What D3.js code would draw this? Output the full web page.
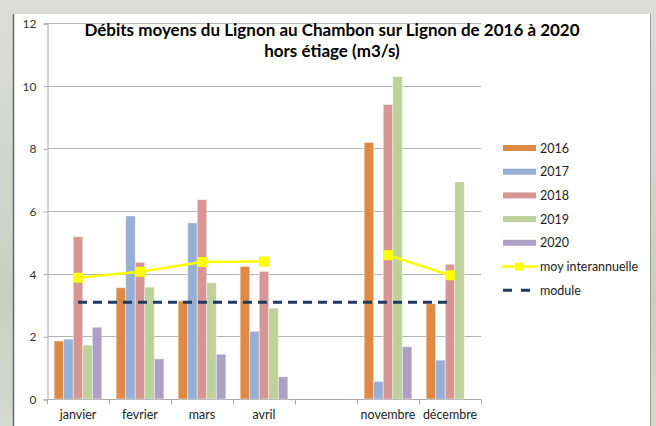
<!DOCTYPE html>
<html>
<head>
<meta charset="utf-8">
<script src="https://cdn.jsdelivr.net/npm/d3@7"></script>
<style>
  body { margin: 0; padding: 0; overflow: hidden; }
  svg { display: block; font-family: Lato, "Liberation Sans", sans-serif; }
</style>
</head>
<body>
<div id="chart"></div>
<script>
const categories = ["janvier", "fevrier", "mars", "avril", " ", "novembre", "décembre"];
const years = ["2016", "2017", "2018", "2019", "2020"];
const s2016 = [1.85, 3.55, 3.13, 4.23, null, 8.19, 3.04];
const s2017 = [1.91, 5.84, 5.62, 2.16, null, 0.56, 1.24];
const s2018 = [5.18, 4.36, 6.36, 4.07, null, 9.40, 4.30];
const s2019 = [1.72, 3.57, 3.71, 2.90, null, 10.29, 6.93];
const s2020 = [2.29, 1.28, 1.43, 0.71, null, 1.67, null];
const moyInter = [3.87, 4.06, 4.37, 4.39, null, 4.59, 3.95];
const moduleVal = 3.09;
const yTicks = [0, 2, 4, 6, 8, 10, 12];

const series = [s2016, s2017, s2018, s2019, s2020];
const colors = ["#de8a45", "#97aed5", "#d69694", "#bed19c", "#ada0c5"];

const width = 656, height = 426;
const svg = d3.select("#chart").append("svg")
  .attr("width", width)
  .attr("height", height);

// fond photo flou
const defs = svg.append("defs");
const bg = defs.append("linearGradient").attr("id", "bg")
  .attr("x1", 0).attr("y1", 0).attr("x2", 0).attr("y2", 1);
bg.append("stop").attr("offset", "0%").attr("stop-color", "#dcdcd8");
bg.append("stop").attr("offset", "40%").attr("stop-color", "#d2d5cf");
bg.append("stop").attr("offset", "70%").attr("stop-color", "#c9cfc0");
bg.append("stop").attr("offset", "100%").attr("stop-color", "#d6d8d2");
svg.append("rect").attr("width", width).attr("height", height).attr("fill", "url(#bg)");

// panneau blanc
svg.append("rect")
  .attr("x", 13).attr("y", 14)
  .attr("width", 637).attr("height", 420)
  .attr("fill", "#ffffff");
svg.append("line").attr("x1", 13.5).attr("x2", 13.5).attr("y1", 14).attr("y2", height)
  .attr("stroke", "#666").attr("stroke-width", 1.5);
svg.append("line").attr("x1", 650.5).attr("x2", 650.5).attr("y1", 14).attr("y2", height)
  .attr("stroke", "#999").attr("stroke-width", 1);

const x0 = d3.scaleBand().domain(categories).range([47, 481]).padding(0);
const x1 = d3.scaleBand().domain(years).range([0, x0.bandwidth()])
  .paddingInner(0).paddingOuter(0.75);
const y = d3.scaleLinear().domain([0, 12]).range([399, 23]);

// grille
svg.append("g").selectAll("line")
  .data(yTicks.filter(d => d > 0))
  .enter().append("line")
  .attr("x1", 47).attr("x2", 481)
  .attr("y1", d => Math.round(y(d)) + 0.5)
  .attr("y2", d => Math.round(y(d)) + 0.5)
  .attr("stroke", "#b4b4b4").attr("stroke-width", 1);

// axe y
const yAxis = svg.append("g")
  .attr("transform", "translate(47.5,0.5)")
  .call(d3.axisLeft(y).tickValues(yTicks).tickSize(4).tickPadding(7).tickFormat(d3.format("d")));
yAxis.select(".domain").attr("stroke", "#a8a8a8");
yAxis.selectAll(".tick line").attr("stroke", "#a8a8a8");
yAxis.selectAll("text").attr("font-size", 12).attr("fill", "#333")
  .attr("font-family", "Lato, sans-serif");

// axe x
const xAxis = svg.append("g")
  .attr("transform", "translate(0.5,399.5)");
xAxis.append("line").attr("x1", 47).attr("x2", 481)
  .attr("stroke", "#a8a8a8");
xAxis.selectAll(".tk")
  .data(categories.concat(["_end"]))
  .enter().append("line")
  .attr("x1", (d, i) => 47 + i * x0.bandwidth())
  .attr("x2", (d, i) => 47 + i * x0.bandwidth())
  .attr("y1", 0).attr("y2", 5)
  .attr("stroke", "#a8a8a8");
svg.append("g").selectAll("text")
  .data(categories)
  .enter().append("text")
  .attr("x", d => x0(d) + x0.bandwidth() / 2)
  .attr("y", 419)
  .attr("text-anchor", "middle")
  .attr("font-size", 12.5)
  .attr("fill", "#222")
  .text(d => d.trim());

// barres
series.forEach(function(vals, si) {
  svg.append("g").selectAll("rect")
    .data(vals.map((v, i) => ({ cat: categories[i], v: v })).filter(d => d.v != null))
    .enter().append("rect")
    .attr("x", d => x0(d.cat) + x1(years[si]))
    .attr("y", d => y(d.v))
    .attr("width", x1.bandwidth())
    .attr("height", d => y(0) - y(d.v))
    .attr("fill", colors[si])
    .attr("stroke", "#ffffff")
    .attr("stroke-opacity", 0.55)
    .attr("stroke-width", 0.8);
});

// module
const cx = d => x0(d) + x0.bandwidth() / 2;
svg.append("line")
  .attr("x1", cx(categories[0]))
  .attr("x2", cx(categories[categories.length - 1]))
  .attr("y1", y(moduleVal)).attr("y2", y(moduleVal))
  .attr("stroke", "#1f3a60").attr("stroke-width", 3)
  .attr("stroke-dasharray", "9,6");

// moy interannuelle
const line = d3.line()
  .defined(d => d.v != null)
  .x(d => cx(d.cat))
  .y(d => y(d.v));
const moyData = moyInter.map((v, i) => ({ cat: categories[i], v: v }));
svg.append("path")
  .datum(moyData)
  .attr("d", line)
  .attr("fill", "none")
  .attr("stroke", "#ffff00")
  .attr("stroke-width", 2.5);
svg.append("g").selectAll("rect")
  .data(moyData.filter(d => d.v != null))
  .enter().append("rect")
  .attr("x", d => cx(d.cat) - 5)
  .attr("y", d => y(d.v) - 5)
  .attr("width", 10).attr("height", 10)
  .attr("fill", "#ffff00");

// titre
const title = svg.append("text")
  .attr("x", 332)
  .attr("text-anchor", "middle")
  .attr("font-size", 17)
  .attr("font-weight", "bold")
  .attr("fill", "#000");
title.append("tspan").attr("x", 332).attr("y", 36)
  .text("Débits moyens du Lignon au Chambon sur Lignon de 2016 à 2020");
title.append("tspan").attr("x", 332).attr("y", 57)
  .text("hors étiage (m3/s)");

// légende
const legendLabels = years.concat(["moy interannuelle", "module"]);
const leg = svg.append("g").selectAll("g")
  .data(legendLabels)
  .enter().append("g")
  .attr("transform", (d, i) => `translate(503,${148 + i * 23.7})`);
leg.each(function(d, i) {
  const g = d3.select(this);
  if (i < 5) {
    g.append("rect").attr("x", 0).attr("y", -3).attr("width", 33).attr("height", 6)
      .attr("fill", colors[i]);
  } else if (i === 5) {
    g.append("line").attr("x1", -1).attr("x2", 34).attr("y1", 0).attr("y2", 0)
      .attr("stroke", "#ffff00").attr("stroke-width", 2.5);
    g.append("rect").attr("x", 12).attr("y", -4).attr("width", 8).attr("height", 8)
      .attr("fill", "#ffff00");
  } else {
    g.append("line").attr("x1", 0).attr("x2", 30).attr("y1", 0).attr("y2", 0)
      .attr("stroke", "#1f3a60").attr("stroke-width", 3)
      .attr("stroke-dasharray", "9,9");
  }
  g.append("text").attr("x", 37).attr("y", 4.5)
    .attr("font-size", 12.5).attr("fill", "#222")
    .text(d);
});
</script>
</body>
</html>
